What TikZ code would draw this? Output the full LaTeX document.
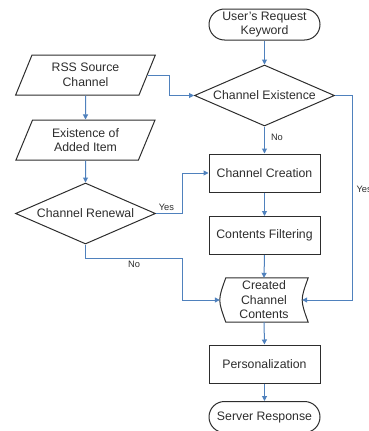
\documentclass[tikz,border=0pt]{standalone}
\usepackage{fontspec}
\setmainfont{Liberation Sans}
\usetikzlibrary{shapes,calc,positioning,arrows.meta}

\definecolor{linkblue}{RGB}{79,129,189}
\definecolor{boxgray}{RGB}{45,45,45}

\begin{document}
\begin{tikzpicture}[x=1pt,y=-1pt,
        every node/.style={font=\fontsize{12.3}{14.5}\selectfont,text=boxgray,align=center},
        box/.style={draw=boxgray,line width=1pt,rectangle,minimum width=111pt,minimum height=38pt,inner sep=0pt},
        term/.style={draw=boxgray,line width=1pt,rounded rectangle,minimum width=111pt,minimum height=31pt,inner sep=0pt},
        data/.style={draw=boxgray,line width=1pt,trapezium,trapezium left angle=66,trapezium right angle=114,trapezium stretches=true,minimum width=140pt,minimum height=40pt,inner sep=0pt},
        cond/.style={draw=boxgray,line width=1pt,diamond,aspect=2.3,minimum width=140pt,minimum height=61pt,inner sep=0pt},
        link/.style={draw=linkblue,line width=1pt,-{Triangle[length=5pt,width=5pt]}},
        tag/.style={font=\fontsize{9.3}{10}\selectfont,inner sep=2pt}]
        \def\cx{264.5}
        \def\lx{85.5}
        \useasboundingbox (0,0) rectangle (368,431);
        \node[term] (start) at (\cx,24.5) {User's Request\\Keyword};
        \node[cond] (ex) at (\cx,95.5) {Channel Existence};
        \node[data] (rss) at (\lx,75) {RSS Source\\Channel};
        \node[data] (added) at (\lx,140) {Existence of\\Added Item};
        \node[cond] (ren) at (\lx,213.5) {Channel Renewal};
        \node[box] (cre) at (\cx,173) {Channel Creation};
        \node[box] (filt) at (\cx,235.5) {Contents Filtering};
        \node[minimum width=88pt,minimum height=44pt,inner sep=0pt] (cc) at (264,300) {Created\\Channel\\Contents};
        \draw[boxgray,line width=1pt] ([xshift=6pt]cc.north west) -- (cc.north east) .. controls ([xshift=-8pt]cc.east) .. (cc.south east) -- ([xshift=6pt]cc.south west) .. controls ([xshift=-2pt]cc.west) .. cycle;
        \node[box] (pers) at (\cx,364) {Personalization};
        \node[term] (resp) at (\cx,417) {Server Response};

        \draw[link] (start.south) -- (ex.north);
        \draw[link] (rss.east) -- ++(22,0) |- (ex.west);
        \draw[link] (ex.south) -- node[tag,pos=0.4,right=4pt]{No} (cre.north);
        \draw[link] (ex.east) -- ++(17,0) coordinate (exr) -- node[tag,pos=0.46,right=2pt]{Yes} (exr |- cc.east) -- ([xshift=-6pt]cc.east);
        \draw[link] (rss.south) -- (added.north);
        \draw[link] (added.south) -- (ren.north);
        \draw[link] (ren.east) -- node[tag,above,pos=0.4]{Yes} ++(26,0) |- (cre.west);
        \draw[link] (ren.south) -- ++(0,14) -- node[tag,below]{No} ++(97,0) |- (cc.west);
        \draw[link] (cre.south) -- (filt.north);
        \draw[link] (filt.south) -- (cc.north);
        \draw[link] (cc.south) -- (pers.north);
        \draw[link] (pers.south) -- (resp.north);
\end{tikzpicture}
\end{document}
